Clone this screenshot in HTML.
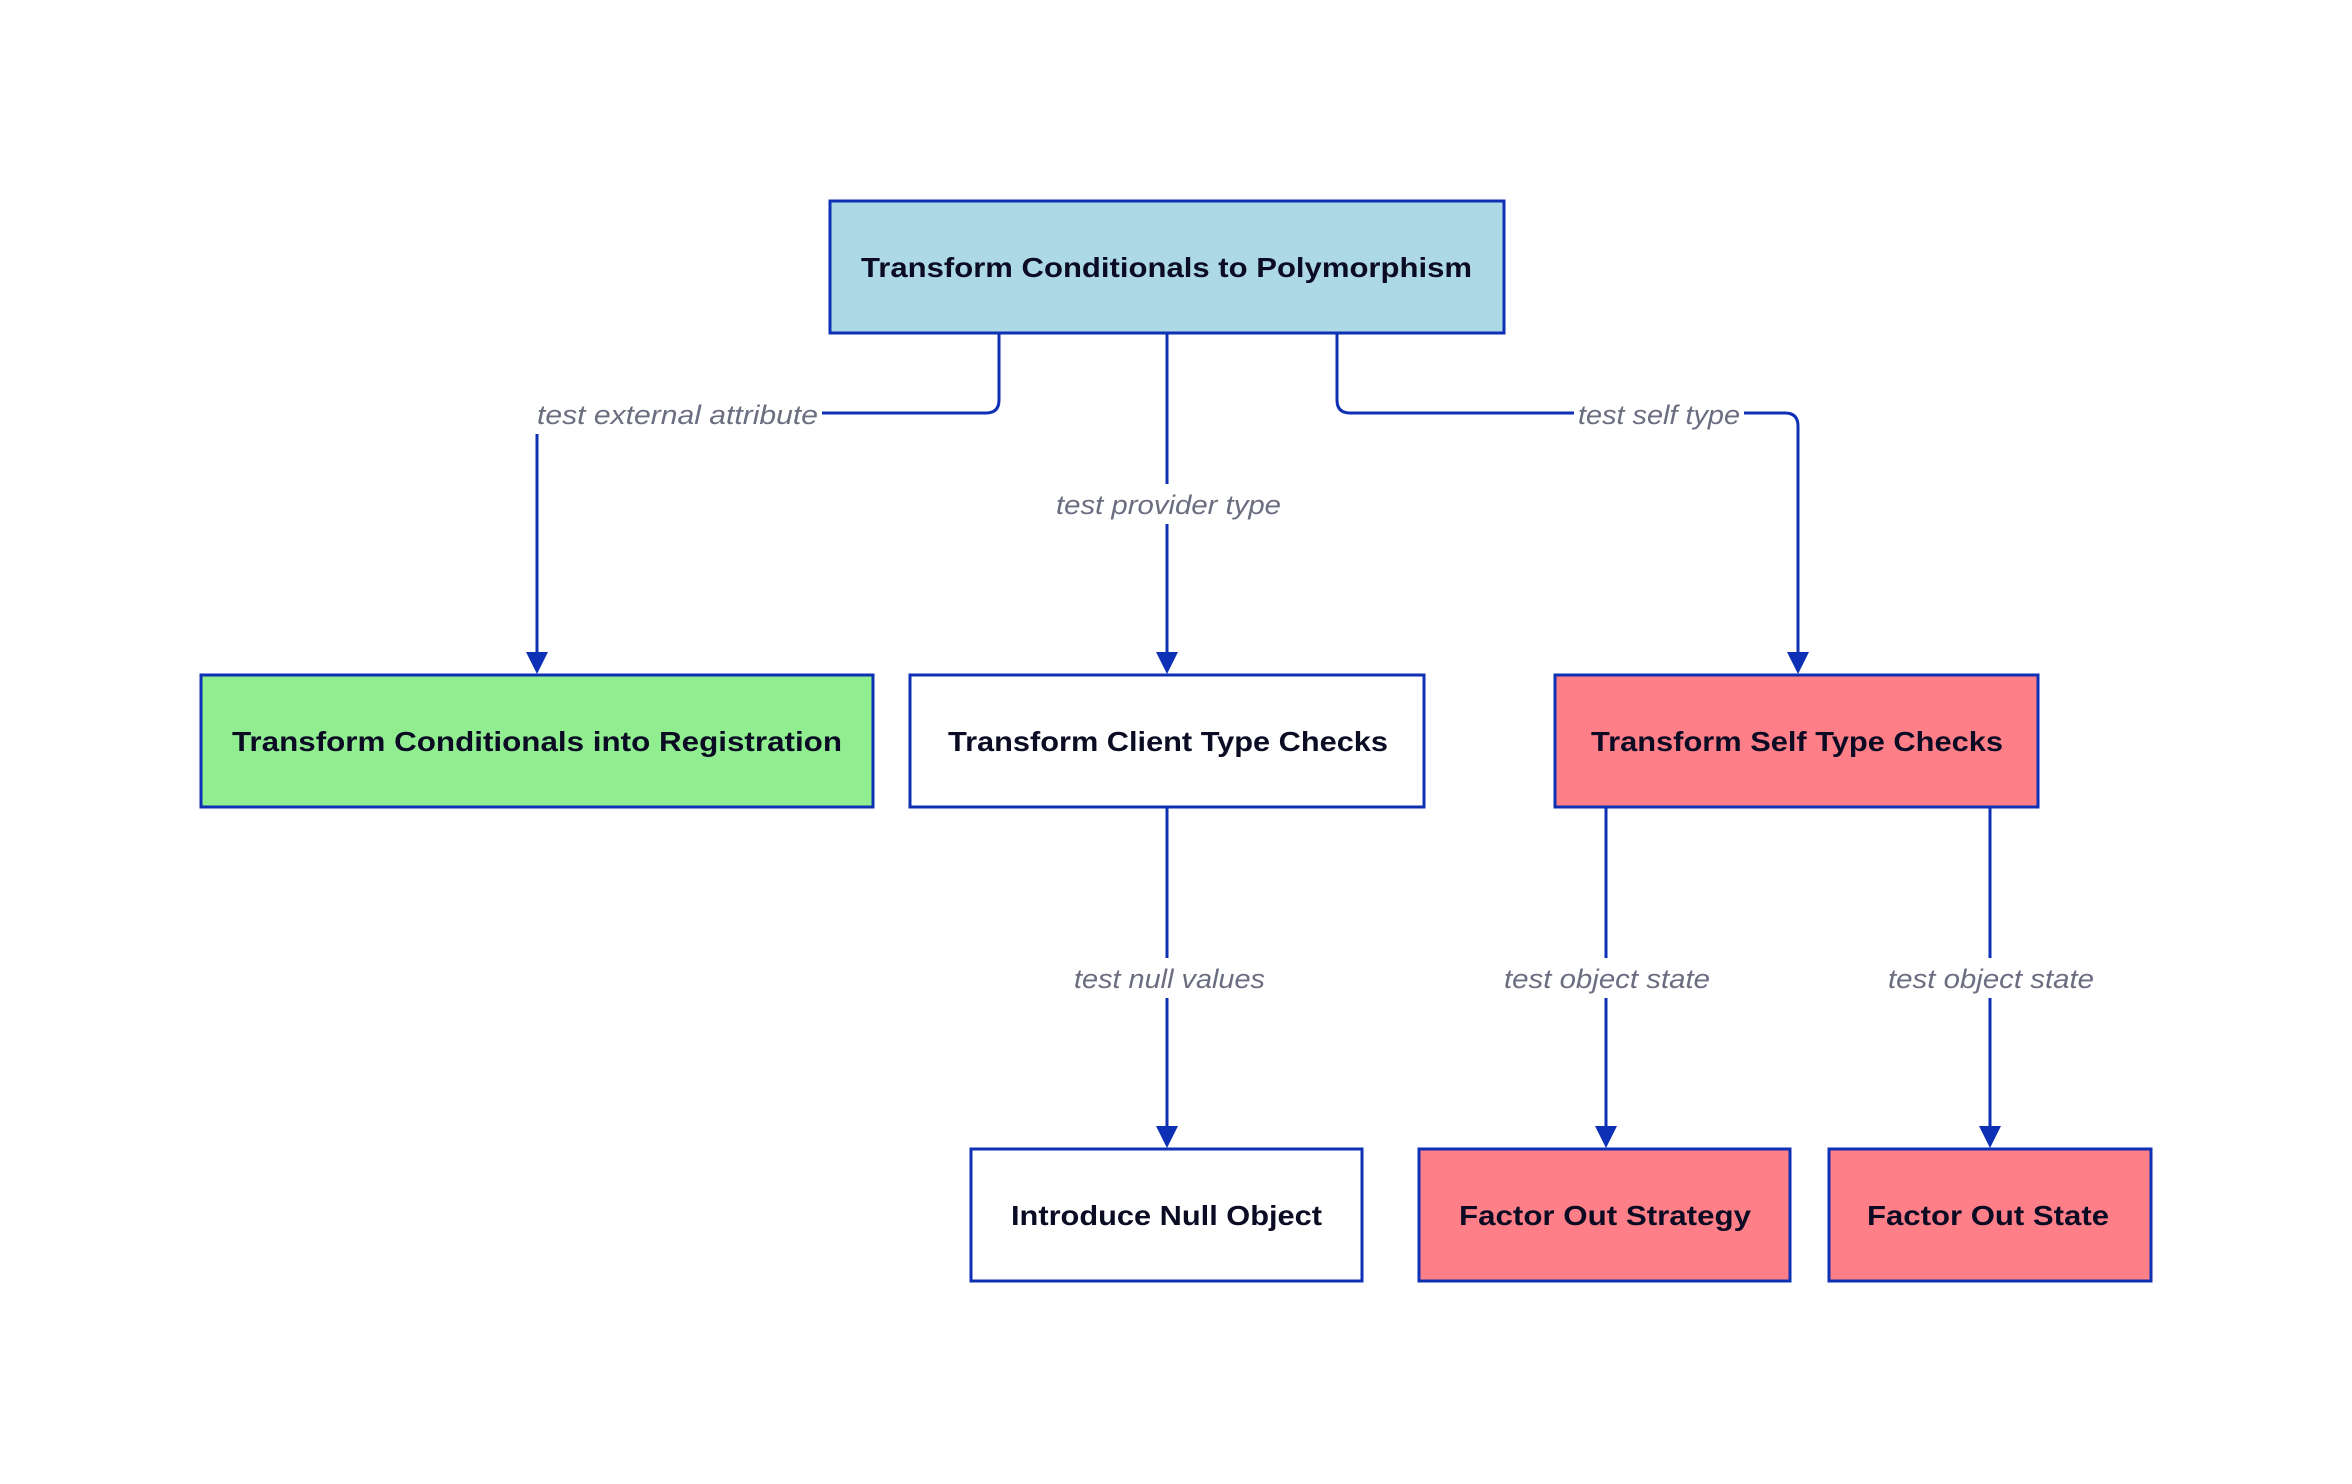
<!DOCTYPE html>
<html><head><meta charset="utf-8"><style>html,body{margin:0;padding:0;background:#fff}svg{display:block}</style></head>
<body>
<svg width="2352" height="1484" viewBox="0 0 2352 1484" xmlns="http://www.w3.org/2000/svg">
<defs><marker id="a" markerWidth="22" markerHeight="22" refX="11" refY="20" orient="auto" markerUnits="userSpaceOnUse"><path d="M0,0 L22,0 L11,22 Z" fill="#0d30b4" transform="rotate(-90 11 11)"/></marker></defs>
<g fill="none" stroke="#0d30b4" stroke-width="3">
<path d="M999,333 V400 Q999,413 986,413 H537 V652"/>
<path d="M1167,333 V652"/>
<path d="M1337,333 V400 Q1337,413 1350,413 H1785 Q1798,413 1798,426 V652"/>
<path d="M1167,807 V1126"/>
<path d="M1606,807 V1126"/>
<path d="M1990,807 V1126"/>
</g>
<g fill="#0d30b4">
<path d="M526,652 H548 L537,674 Z"/>
<path d="M1156,652 H1178 L1167,674 Z"/>
<path d="M1787,652 H1809 L1798,674 Z"/>
<path d="M1156,1126 H1178 L1167,1148 Z"/>
<path d="M1595,1126 H1617 L1606,1148 Z"/>
<path d="M1979,1126 H2001 L1990,1148 Z"/>
</g>
<g fill="#fff">
<rect x="534" y="396" width="288" height="38"/>
<rect x="1050" y="484" width="234" height="40"/>
<rect x="1574" y="396" width="170" height="38"/>
<rect x="1068" y="958" width="200" height="40"/>
<rect x="1500" y="958" width="212" height="40"/>
<rect x="1884" y="958" width="212" height="40"/>
</g>
<g font-family="Liberation Sans, sans-serif" font-style="italic" font-size="27" fill="#6b6d80" lengthAdjust="spacingAndGlyphs">
<text x="537" y="424" textLength="281" lengthAdjust="spacingAndGlyphs">test external attribute</text>
<text x="1056" y="514" textLength="225" lengthAdjust="spacingAndGlyphs">test provider type</text>
<text x="1578" y="424" textLength="162" lengthAdjust="spacingAndGlyphs">test self type</text>
<text x="1074" y="988" textLength="191" lengthAdjust="spacingAndGlyphs">test null values</text>
<text x="1504" y="988" textLength="206" lengthAdjust="spacingAndGlyphs">test object state</text>
<text x="1888" y="988" textLength="206" lengthAdjust="spacingAndGlyphs">test object state</text>
</g>
<g stroke="#0d30b4" stroke-width="3">
<rect x="830" y="201" width="674" height="132" fill="#add8e6"/>
<rect x="201" y="675" width="672" height="132" fill="#90ee90"/>
<rect x="910" y="675" width="514" height="132" fill="#fff"/>
<rect x="1555" y="675" width="483" height="132" fill="#ff7f88"/>
<rect x="971" y="1149" width="391" height="132" fill="#fff"/>
<rect x="1419" y="1149" width="371" height="132" fill="#ff7f88"/>
<rect x="1829" y="1149" width="322" height="132" fill="#ff7f88"/>
</g>
<g font-family="Liberation Sans, sans-serif" font-weight="bold" font-size="28" fill="#0b0c24">
<text x="861" y="277" textLength="611" lengthAdjust="spacingAndGlyphs">Transform Conditionals to Polymorphism</text>
<text x="232" y="751" textLength="610" lengthAdjust="spacingAndGlyphs">Transform Conditionals into Registration</text>
<text x="948" y="751" textLength="440" lengthAdjust="spacingAndGlyphs">Transform Client Type Checks</text>
<text x="1591" y="751" textLength="412" lengthAdjust="spacingAndGlyphs">Transform Self Type Checks</text>
<text x="1011" y="1225" textLength="311" lengthAdjust="spacingAndGlyphs">Introduce Null Object</text>
<text x="1459" y="1225" textLength="292" lengthAdjust="spacingAndGlyphs">Factor Out Strategy</text>
<text x="1867" y="1225" textLength="242" lengthAdjust="spacingAndGlyphs">Factor Out State</text>
</g>
</svg>
</body></html>
